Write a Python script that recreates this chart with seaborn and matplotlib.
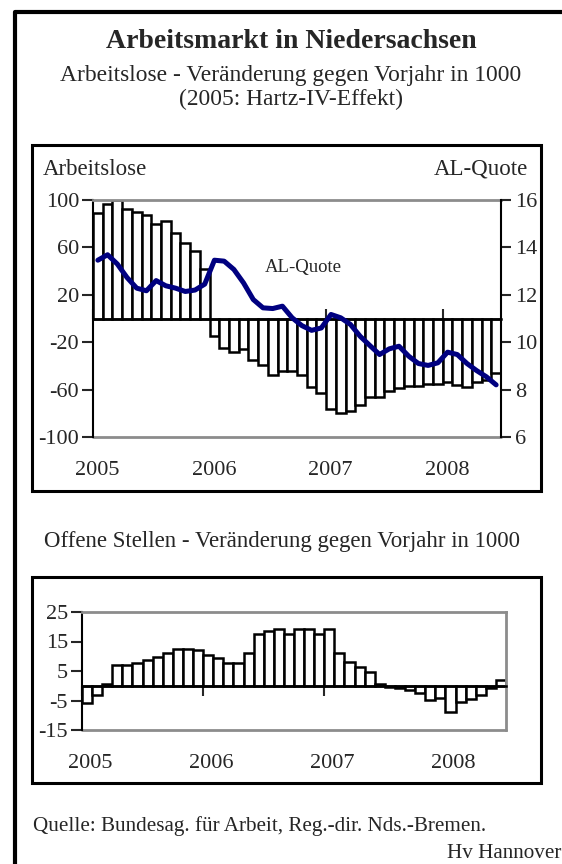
import matplotlib
matplotlib.use("Agg")
import matplotlib.pyplot as plt
import matplotlib.transforms as mtransforms
from matplotlib.lines import Line2D
import seaborn as sns

# monthly values Jan 2005 - Jun 2008
months = list(range(42))
years = ["2005", "2006", "2007", "2008"]
year_starts = [-0.5, 11.5, 23.5, 35.5]

# Arbeitslose, Veraenderung gegen Vorjahr in 1000
arbeitslose = [89, 97, 100, 92, 90, 87, 80, 82, 72, 64, 57, 42,
               -15, -25, -28, -26, -35, -39, -48, -44, -44, -48, -58, -63,
               -76, -80, -78, -73, -66, -66, -61, -59, -57, -57, -55, -55,
               -54, -56, -58, -54, -52, -46]

# AL-Quote in %
al_quote = [13.46, 13.69, 13.3, 12.73, 12.28, 12.17, 12.6, 12.38, 12.28, 12.14, 12.2, 12.45,
            13.46, 13.42, 13.07, 12.5, 11.8, 11.45, 11.42, 11.52, 11.03, 10.7, 10.5, 10.6,
            11.17, 11.03, 10.75, 10.25, 9.86, 9.48, 9.72, 9.83, 9.41, 9.1, 9.02, 9.13,
            9.58, 9.48, 9.1, 8.8, 8.54, 8.2]

# Offene Stellen, Veraenderung gegen Vorjahr in 1000
offene_stellen = [-5.8, -3.2, 0.6, 7.0, 7.2, 7.8, 8.7, 9.8, 11.0, 12.4, 12.4, 12.1,
                  10.4, 9.3, 7.6, 7.8, 11.0, 17.4, 18.5, 19.1, 17.7, 19.4, 19.1, 17.7,
                  19.1, 11.2, 8.1, 6.4, 4.5, 0.6, -0.3, -0.7, -1.5, -2.6, -4.9, -4.0,
                  -8.8, -5.6, -4.6, -3.2, -0.9, 1.9]

W, H = 562, 864
FS = 16.5     # headings / labels
TFS = 16      # tick labels
GRAY = "#8c8c8c"
NAVY = "#000080"

sns.set_style("white")
plt.rcParams["font.family"] = ["Liberation Serif", "DejaVu Serif"]


def fx(px):
    return px / W


def fy(py):
    return 1 - py / H


def frame_box(fig, x0, y0, x1, y1):
    fig.add_artist(plt.Rectangle((fx(x0), fy(y1)), fx(x1) - fx(x0), fy(y0) - fy(y1),
                                 transform=fig.transFigure, fill=False, lw=2.2, ec="black"))


def bar_axes(fig, rect, values, ylim, yticks, tick_dir):
    ax = fig.add_axes(rect)
    sns.barplot(x=months, y=values, ax=ax, color="white", edgecolor="black",
                linewidth=1.8, width=1.0, saturation=1)
    ax.set_xlim(-0.5, 41.5)
    ax.set_ylim(*ylim)
    ax.set_xlabel("")
    ax.set_ylabel("")
    ax.set_xticks(year_starts)
    ax.set_xticklabels([])
    ax.set_yticks(yticks)
    ax.set_yticklabels([str(t) for t in yticks])
    ax.spines["bottom"].set_position(("data", 0))
    ax.spines["bottom"].set_color("black")
    ax.spines["bottom"].set_linewidth(1.8)
    ax.spines["left"].set_color("black")
    ax.spines["left"].set_linewidth(1.5)
    ax.spines["top"].set_color(GRAY)
    ax.spines["top"].set_linewidth(2)
    ax.spines["right"].set_color(GRAY)
    ax.spines["right"].set_linewidth(2)
    ax.axhline(ylim[0], color=GRAY, lw=2, clip_on=False, zorder=0.5)
    ax.tick_params(axis="x", bottom=True, direction=tick_dir, length=7, width=1.5)
    ax.tick_params(axis="y", left=True, direction="out", length=8, width=1.5,
                   labelsize=TFS, pad=2)
    ax.set_facecolor("white")
    return ax


fig = plt.figure(figsize=(W / 100, H / 100), dpi=100)

# outer frame (left and top only)
fig.add_artist(Line2D([fx(15), fx(15), fx(562)], [fy(864), fy(12), fy(12)],
                      transform=fig.transFigure, color="black", lw=3))
frame_box(fig, 32, 145, 541, 491)
frame_box(fig, 32, 577, 541, 783)

fig.text(fx(291), fy(41), "Arbeitsmarkt in Niedersachsen", ha="center", va="center",
         fontsize=20, fontweight="bold")
fig.text(fx(291), fy(75), "Arbeitslose - Veränderung gegen Vorjahr in 1000",
         ha="center", va="center", fontsize=16.9)
fig.text(fx(291), fy(99), "(2005: Hartz-IV-Effekt)", ha="center", va="center", fontsize=16.9)

# --- top chart: Arbeitslose + AL-Quote
ax = bar_axes(fig, [fx(93), fy(437), fx(501) - fx(93), fy(200) - fy(437)],
              arbeitslose, (-100, 100), [-100, -60, -20, 20, 60, 100], "in")
ax.spines["right"].set_visible(False)

ax2 = ax.twinx()
sns.lineplot(x=months, y=al_quote, ax=ax2, color=NAVY, lw=3.6)
ax2.set_ylim(6, 16)
ax2.set_yticks([6, 8, 10, 12, 14, 16])
ax2.set_ylabel("")
for side in ["top", "bottom", "left"]:
    ax2.spines[side].set_visible(False)
ax2.spines["right"].set_color("black")
ax2.spines["right"].set_linewidth(1.5)
ax2.tick_params(axis="y", right=True, direction="out", length=7, width=1.5,
                labelsize=TFS, pad=3)
ax2.text(17.2, 13.17, "AL-Quote", ha="left", va="center", fontsize=13.5)

fig.text(fx(43), fy(175), "Arbeitslose", ha="left", va="baseline", fontsize=FS)
fig.text(fx(528), fy(175), "AL-Quote", ha="right", va="baseline", fontsize=FS)

top_tr = mtransforms.blended_transform_factory(ax.transData, fig.transFigure)
for x, label in zip(year_starts, years):
    fig.text(x + 0.45, fy(471), label, transform=top_tr, ha="center", va="center",
             fontsize=TFS)

# --- bottom chart: Offene Stellen
fig.text(fx(282), fy(541), "Offene Stellen - Veränderung gegen Vorjahr in 1000",
         ha="center", va="center", fontsize=FS)

bx = bar_axes(fig, [fx(82), fy(730), fx(506) - fx(82), fy(612) - fy(730)],
              offene_stellen, (-15, 25), [-15, -5, 5, 15, 25], "out")

bot_tr = mtransforms.blended_transform_factory(bx.transData, fig.transFigure)
for x, label in zip(year_starts, years):
    fig.text(x + 0.8, fy(764), label, transform=bot_tr, ha="center", va="center",
             fontsize=TFS)

fig.text(fx(33), fy(826), "Quelle: Bundesag. für Arbeit, Reg.-dir. Nds.-Bremen.",
         ha="left", va="center", fontsize=15.2)
fig.text(fx(561), fy(853), "Hv Hannover", ha="right", va="center", fontsize=15.2)

fig.savefig("out.png", dpi=100)
